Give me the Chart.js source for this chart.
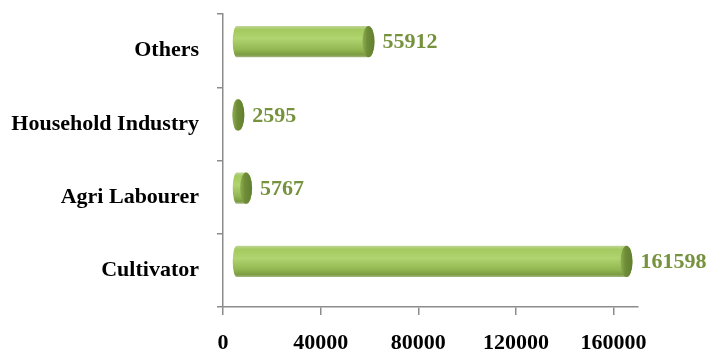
<!DOCTYPE html>
<html>
<head>
<meta charset="utf-8">
<script src="https://cdn.jsdelivr.net/npm/chart.js"></script>
<style>
  html, body { margin: 0; padding: 0; background: #fff; }
  #wrap { width: 715px; height: 350px; }
</style>
</head>
<body>
<div id="wrap"><canvas id="workers"></canvas></div>
<script>
// Workers by category
const categories = ['Others', 'Household Industry', 'Agri Labourer', 'Cultivator'];
const workers = [55912, 2595, 5767, 161598];
const xTicks = [0, 40000, 80000, 120000, 160000];

const serif = "'Liberation Serif', 'Times New Roman', serif";
const axisGrey = '#8c8c8c';
const labelGreen = '#76923c';

// fake 3D depth shift of the cylinders
const depthX = 9;
const depthY = -9;

// draws each bar as a horizontal cylinder, using the bar element geometry
const cylinderBars = {
    id: 'cylinderBars',
    afterDatasetsDraw(chart) {
        const ctx = chart.ctx;
        const meta = chart.getDatasetMeta(0);
        meta.data.forEach((bar, i) => {
            const h = bar.height;
            const cy = bar.y + depthY;
            const top = cy - h / 2;
            const bottom = cy + h / 2;
            const x0 = bar.base + depthX;
            const x1 = bar.x + depthX;
            const rl = 4;
            const rc = 6;

            const body = ctx.createLinearGradient(0, top, 0, bottom);
            body.addColorStop(0, '#c2d69b');
            body.addColorStop(0.12, '#a3c95f');
            body.addColorStop(0.4, '#b0d46f');
            body.addColorStop(0.75, '#93b852');
            body.addColorStop(0.92, '#7c9c40');
            body.addColorStop(1, '#a8b98c');

            ctx.save();
            ctx.beginPath();
            ctx.moveTo(x0 + rl, top);
            ctx.lineTo(x1, top);
            ctx.ellipse(x1, cy, rc, h / 2, 0, -Math.PI / 2, Math.PI / 2);
            ctx.lineTo(x0 + rl, bottom);
            ctx.ellipse(x0 + rl, cy, rl, h / 2, 0, Math.PI / 2, Math.PI * 1.5);
            ctx.closePath();
            ctx.fillStyle = body;
            ctx.fill();

            // end cap
            const cap = ctx.createLinearGradient(x1 - rc, 0, x1 + rc, 0);
            cap.addColorStop(0, '#8fae52');
            cap.addColorStop(0.4, '#6f8d38');
            cap.addColorStop(1, '#627d31');
            ctx.beginPath();
            ctx.ellipse(x1, cy, rc, h / 2, 0, 0, Math.PI * 2);
            ctx.fillStyle = cap;
            ctx.fill();

            // value label
            ctx.font = 'bold 22px ' + serif;
            ctx.fillStyle = labelGreen;
            ctx.textAlign = 'left';
            ctx.textBaseline = 'middle';
            ctx.fillText(String(workers[i]), bar.x + 23, cy + 1);
            ctx.restore();
        });
    }
};

new Chart(document.getElementById('workers'), {
    type: 'bar',
    data: {
        labels: categories,
        datasets: [{
            data: workers,
            backgroundColor: 'rgba(0,0,0,0)',
            borderWidth: 0,
            barPercentage: 0.43,
            categoryPercentage: 1
        }]
    },
    options: {
        indexAxis: 'y',
        responsive: true,
        maintainAspectRatio: false,
        animation: false,
        layout: { padding: { top: 14, right: 77, left: 0, bottom: 0 } },
        plugins: {
            legend: { display: false },
            tooltip: { enabled: false }
        },
        scales: {
            x: {
                min: 0,
                max: 170000,
                afterBuildTicks(scale) {
                    scale.ticks = xTicks.map(v => ({ value: v }));
                },
                afterFit(scale) {
                    scale.height = 43;
                    scale.paddingLeft = 0;
                    scale.paddingRight = 0;
                },
                grid: {
                    drawOnChartArea: false,
                    color: axisGrey,
                    tickLength: 8,
                    lineWidth: 1.5
                },
                border: { display: true, color: axisGrey, width: 1.5 },
                ticks: {
                    color: '#000',
                    padding: 15,
                    maxRotation: 0,
                    callback: v => String(v),
                    font: { family: serif, size: 22, weight: 'bold' }
                }
            },
            y: {
                afterFit(scale) {
                    scale.width = 223;
                    scale.paddingTop = 0;
                    scale.paddingBottom = 0;
                },
                grid: {
                    drawOnChartArea: false,
                    color: axisGrey,
                    tickLength: 6,
                    lineWidth: 1.5
                },
                border: { display: true, color: axisGrey, width: 1.5 },
                ticks: {
                    color: '#000',
                    padding: 18,
                    font: { family: serif, size: 22, weight: 'bold' }
                }
            }
        }
    },
    plugins: [cylinderBars]
});
</script>
</body>
</html>
